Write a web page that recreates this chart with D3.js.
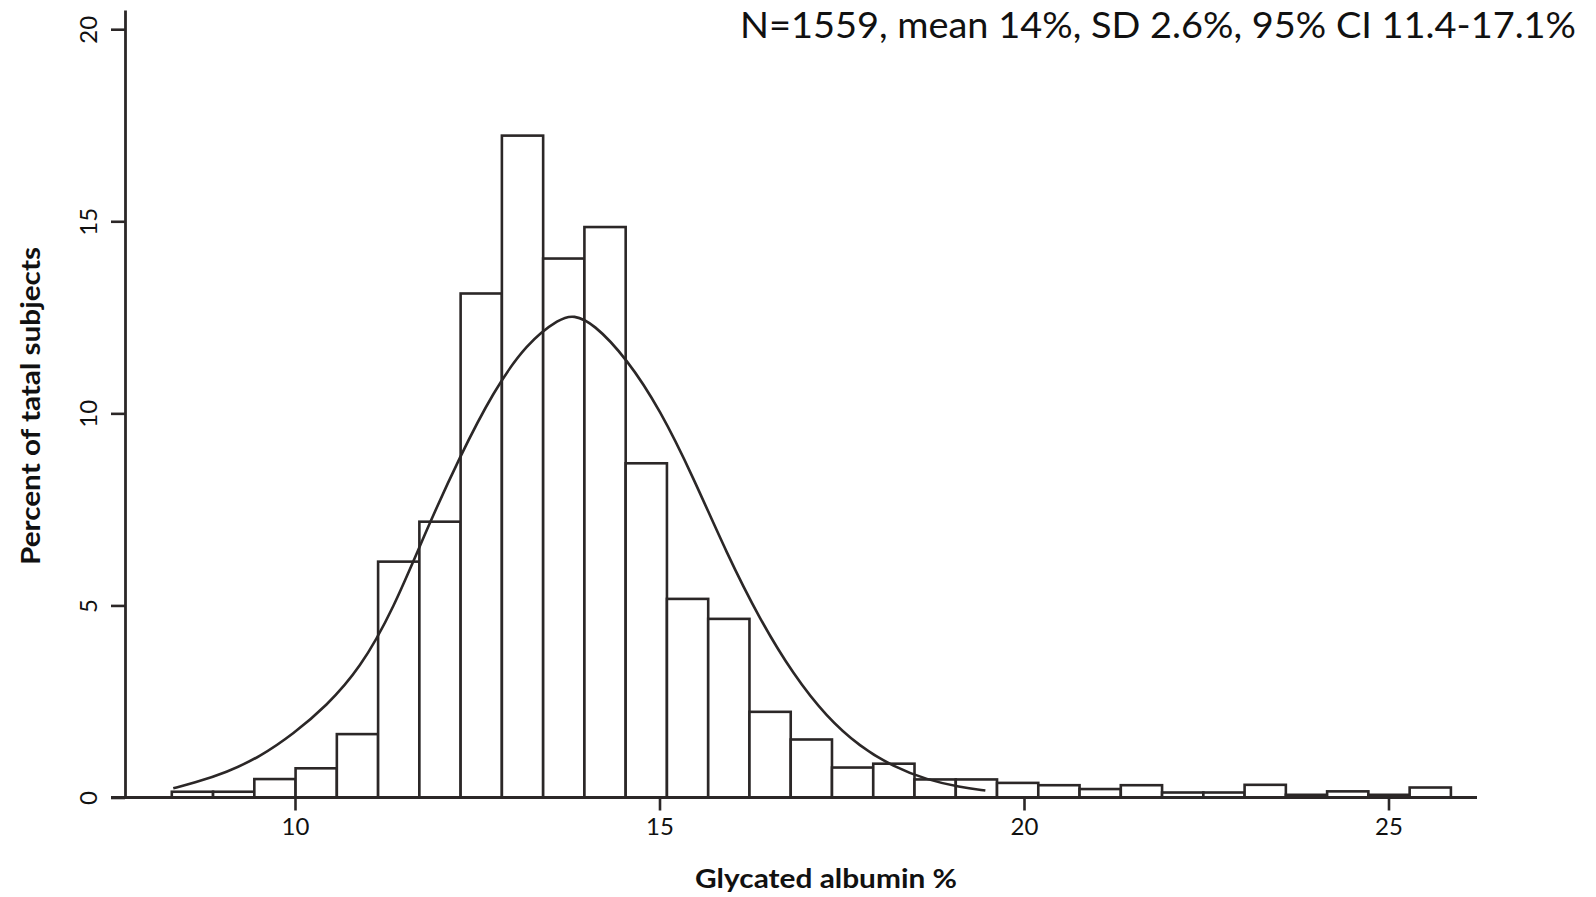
<!DOCTYPE html>
<html>
<head>
<meta charset="utf-8">
<script src="https://cdn.jsdelivr.net/npm/d3@7"></script>
<style>
  html, body { margin: 0; padding: 0; background: #fff; }
  svg { display: block; }
  text { font-family: Lato, "Open Sans", sans-serif; fill: #111; }
</style>
</head>
<body>
<svg id="chart" width="1596" height="897"></svg>
<script>
// ---- data ----
const binStart = 8.31;     // left edge of first bin (Glycated albumin %)
const binWidth = 0.566;    // bin width
const binPercents = [0.15, 0.15, 0.48, 0.76, 1.65, 6.14, 7.18, 13.12, 17.23, 14.03,
                     14.85, 8.70, 5.17, 4.65, 2.23, 1.51, 0.78, 0.88, 0.47, 0.47,
                     0.38, 0.32, 0.22, 0.32, 0.13, 0.13, 0.33, 0.07, 0.16, 0.07, 0.26];
const curveX = [8.33, 8.60, 9.06, 9.52, 9.98, 10.43, 10.89, 11.35, 11.81,
                12.26, 12.72, 13.18, 13.64, 13.82, 14.09, 14.55, 15.01, 15.46, 15.92,
                16.38, 16.84, 17.29, 17.75, 18.21, 18.67, 19.12, 19.47];
const curveY = [0.24, 0.37, 0.65, 1.06, 1.66, 2.38, 3.35, 4.90, 7.00,
                8.87, 10.57, 11.83, 12.48, 12.56, 12.35, 11.43, 10.09, 8.35, 6.36,
                4.62, 3.19, 2.10, 1.32, 0.80, 0.46, 0.27, 0.18];
const xTicks = [10, 15, 20, 25];
const yTicks = [0, 5, 10, 15, 20];
const titleText = "N=1559, mean 14%, SD 2.6%, 95% CI 11.4-17.1%";
const xLabel = "Glycated albumin %";
const yLabel = "Percent of tatal subjects";

// ---- layout ----
const ink = "#2b2727";
const svg = d3.select("#chart");
const x = d3.scaleLinear().domain([7.476, 26.214]).range([111, 1477]);
const y = d3.scaleLinear().domain([0, 20.5]).range([797.5, 10]);

const bins = binPercents.map((v, i) => ({
  x0: binStart + i * binWidth,
  x1: binStart + (i + 1) * binWidth,
  v
}));

// bars
svg.append("g")
  .selectAll("rect")
  .data(bins)
  .join("rect")
  .attr("x", d => x(d.x0))
  .attr("width", d => x(d.x1) - x(d.x0))
  .attr("y", d => y(d.v))
  .attr("height", d => y(0) - y(d.v))
  .attr("fill", "#fff")
  .attr("stroke", ink)
  .attr("stroke-width", 2.6);

// fitted curve
const pts = curveX.map((cx, i) => [cx, curveY[i]]);
svg.append("path")
  .datum(pts)
  .attr("fill", "none")
  .attr("stroke", ink)
  .attr("stroke-width", 2.6)
  .attr("d", d3.line().x(d => x(d[0])).y(d => y(d[1])).curve(d3.curveBasis));

// x axis
const xAxis = svg.append("g").attr("transform", `translate(0,${y(0)})`)
  .call(d3.axisBottom(x).tickValues(xTicks).tickSize(13).tickSizeOuter(0).tickPadding(7).tickFormat(d3.format("d")));
xAxis.select(".domain").attr("stroke", ink).attr("stroke-width", 2.8).attr("d", `M${x.range()[0]},0H${x.range()[1]}`);
xAxis.selectAll(".tick line").attr("stroke", ink).attr("stroke-width", 2.6);
xAxis.selectAll(".tick text").attr("font-size", 24).attr("fill", "#111").attr("font-family", "Lato, 'Open Sans', sans-serif");

// y axis
const yAxis = svg.append("g").attr("transform", `translate(125,0)`)
  .call(d3.axisLeft(y).tickValues(yTicks).tickSize(14).tickSizeOuter(0).tickFormat(d3.format("d")));
yAxis.select(".domain").attr("stroke", ink).attr("stroke-width", 2.8);
yAxis.selectAll(".tick line").attr("stroke", ink).attr("stroke-width", 2.6);
yAxis.selectAll(".tick text")
  .attr("font-size", 24).attr("fill", "#111").attr("font-family", "Lato, 'Open Sans', sans-serif")
  .attr("x", null).attr("dy", null)
  .attr("text-anchor", "middle")
  .attr("transform", "translate(-28,0) rotate(-90)");

// title
svg.append("text")
  .attr("x", 1576).attr("y", 38)
  .attr("text-anchor", "end")
  .attr("font-size", 37)
  .attr("textLength", 836).attr("lengthAdjust", "spacingAndGlyphs")
  .text(titleText);

// axis labels
svg.append("text")
  .attr("x", 826).attr("y", 888)
  .attr("text-anchor", "middle")
  .attr("font-size", 27).attr("font-weight", "bold")
  .attr("textLength", 262).attr("lengthAdjust", "spacingAndGlyphs")
  .text(xLabel);

svg.append("text")
  .attr("transform", "translate(40,406) rotate(-90)")
  .attr("text-anchor", "middle")
  .attr("font-size", 27).attr("font-weight", "bold")
  .attr("textLength", 318).attr("lengthAdjust", "spacingAndGlyphs")
  .text(yLabel);
</script>
</body>
</html>
